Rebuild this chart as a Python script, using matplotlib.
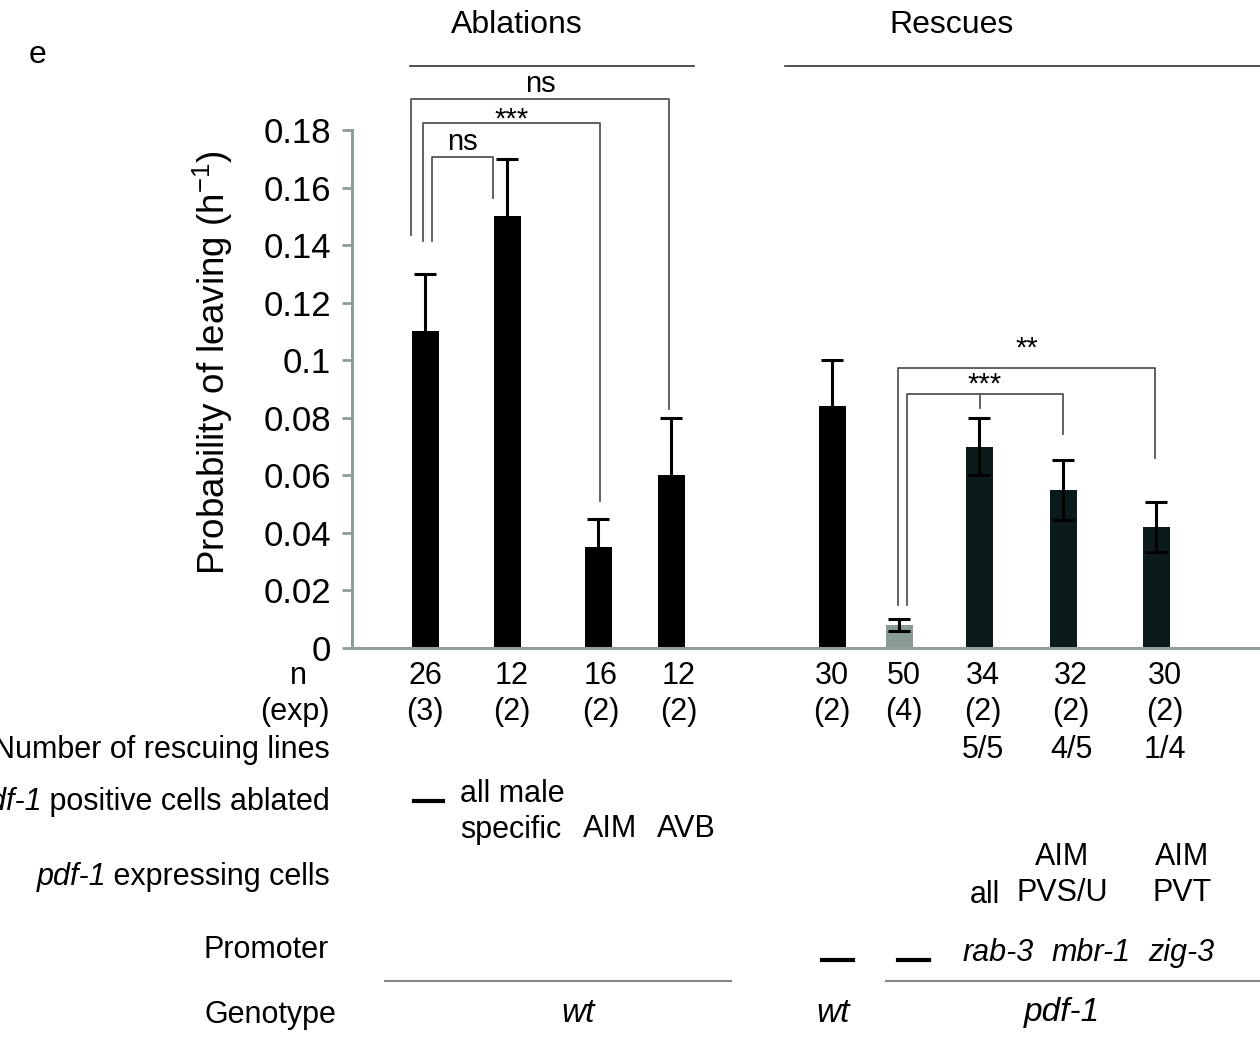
import matplotlib.pyplot as plt
from matplotlib.transforms import blended_transform_factory

plt.rcParams['font.family'] = ['Liberation Sans', 'DejaVu Sans']
plt.rcParams['mathtext.fontset'] = 'custom'
plt.rcParams['mathtext.rm'] = 'Liberation Sans'
plt.rcParams['mathtext.it'] = 'Liberation Sans:italic'

# data
values = [0.110, 0.150, 0.035, 0.060, 0.084, 0.008, 0.070, 0.055, 0.042]
errors = [0.020, 0.020, 0.010, 0.020, 0.016, 0.002, 0.010, 0.0105, 0.0087]
n_worms = ['26', '12', '16', '12', '30', '50', '34', '32', '30']
n_exp = ['(3)', '(2)', '(2)', '(2)', '(2)', '(4)', '(2)', '(2)', '(2)']
rescuing = ['', '', '', '', '', '', '5/5', '4/5', '1/4']
yticks = [0, 0.02, 0.04, 0.06, 0.08, 0.1, 0.12, 0.14, 0.16, 0.18]
ytick_labels = ['0', '0.02', '0.04', '0.06', '0.08', '0.1', '0.12', '0.14', '0.16', '0.18']

# layout (x in axis units = pixels right of the y axis)
W, H = 1260, 1038
X0 = 352
bar_x = [73, 155, 246, 319, 480, 547, 627, 711, 804]
label_x = [73, 160, 249, 327, 480, 552, 631, 719, 813]
bar_colors = ['black'] * 5 + ['#8a9a97'] + ['#0b1a1a'] * 3
axis_grey = '#8d9e9c'
brk_grey = '#555555'
FS = 22

fig = plt.figure(figsize=(W / 100, H / 100), dpi=100)
ax = fig.add_axes([X0 / W, 1 - 648 / H, 1 - X0 / W, (648 - 130) / H])

ax.bar(bar_x, values, width=27, color=bar_colors, zorder=2)
ax.errorbar(bar_x, values, yerr=errors, fmt='none', ecolor='black',
            elinewidth=2.2, capsize=8, capthick=2.2, zorder=3)

ax.set_xlim(0, W - X0)
ax.set_ylim(0, 0.18)
ax.set_yticks(yticks)
ax.set_yticklabels(ytick_labels, fontsize=25)
ax.set_xticks([])
for s in ['top', 'right']:
    ax.spines[s].set_visible(False)
for s in ['left', 'bottom']:
    ax.spines[s].set_color(axis_grey)
    ax.spines[s].set_linewidth(2.2)
ax.tick_params(axis='y', direction='out', length=7, width=2, color=axis_grey, pad=8)


def bracket(x1, x2, top, left_end, right_end, label, ly, mid=None):
    kw = dict(color=brk_grey, lw=1.3, clip_on=False, zorder=4)
    ax.plot([x1, x1, x2, x2], [left_end, top, top, right_end], **kw)
    if mid is not None:
        ax.plot([mid[0], mid[0]], [top, mid[1]], **kw)
    ax.text((x1 + x2) / 2, ly, label, ha='center', va='center',
            fontsize=21, clip_on=False)


bracket(59, 317, 0.1908, 0.1435, 0.0830, 'ns', 0.1960)
bracket(71, 248, 0.1825, 0.1414, 0.0510, '***', 0.1835)
bracket(80, 141, 0.1706, 0.1414, 0.1564, 'ns', 0.1760)
bracket(546, 803, 0.0973, 0.0149, 0.0660, '**', 0.1042)
bracket(555, 711, 0.0883, 0.0149, 0.0744, '***', 0.0914, mid=(628, 0.0834))


def ftxt(x, y, s, **kw):
    kw.setdefault('fontsize', FS)
    kw.setdefault('va', 'center')
    return fig.text(x / W, 1 - y / H, s, **kw)


def fline(x1, x2, y, **kw):
    fig.add_artist(plt.Line2D([x1 / W, x2 / W], [1 - y / H, 1 - y / H], **kw))


# panel letter and group headers
ftxt(37, 55, 'e', ha='center', fontsize=23)
ftxt(517, 25, 'Ablations', ha='center', fontsize=23)
ftxt(952, 25, 'Rescues', ha='center', fontsize=23)
fline(410, 694, 66, color='#333333', lw=1.2)
fline(785, 1260, 66, color='#333333', lw=1.2)

# y label
ftxt(213, 363, 'Probability of leaving (h$^{-1}$)', ha='center',
     rotation=90, fontsize=26.5)

# table below the axis
bt = blended_transform_factory(ax.transData, fig.transFigure)
for i in range(len(values)):
    fig.text(label_x[i], 1 - 676 / H, n_worms[i], transform=bt,
             ha='center', va='center', fontsize=FS)
    fig.text(label_x[i], 1 - 712 / H, n_exp[i], transform=bt,
             ha='center', va='center', fontsize=FS)
    if rescuing[i]:
        fig.text(label_x[i], 1 - 750 / H, rescuing[i], transform=bt,
                 ha='center', va='center', fontsize=FS)

ftxt(298, 676, 'n', ha='center')
ftxt(330, 712, '(exp)', ha='right')
ftxt(330, 750, 'Number of rescuing lines', ha='right')
t1 = ftxt(330, 802, ' positive cells ablated', ha='right')
t2 = ftxt(330, 877, ' expressing cells', ha='right')
ftxt(329, 950, 'Promoter', ha='right')
ftxt(336, 1015, 'Genotype', ha='right')

# italic gene name in front of the row labels
fig.canvas.draw()
for t, y in [(t1, 802), (t2, 877)]:
    bb = t.get_window_extent()
    fig.text(bb.x0 / W + 0.001, 1 - y / H, 'pdf-1', ha='right', va='center',
             fontsize=FS, style='italic')

# ablation row
fline(414, 443, 801, color='black', lw=3)
ftxt(460, 812, 'all male\nspecific', ha='left', linespacing=1.25)
ftxt(610, 829, 'AIM', ha='center')
ftxt(686, 829, 'AVB', ha='center')

# expressing cells row
ftxt(985, 895, 'all', ha='center')
ftxt(1062, 875, 'AIM\nPVS/U', ha='center', linespacing=1.3)
ftxt(1182, 875, 'AIM\nPVT', ha='center', linespacing=1.3)

# promoter row
fline(822, 853, 960, color='black', lw=3)
fline(898, 929, 960, color='black', lw=3)
ftxt(998, 953, 'rab-3', ha='center', style='italic')
ftxt(1091, 953, 'mbr-1', ha='center', style='italic')
ftxt(1181, 953, 'zig-3', ha='center', style='italic')

fline(385, 731, 981, color='#888888', lw=1.5)
fline(886, 1260, 981, color='#888888', lw=1.5)

# genotype row
ftxt(578, 1013, 'wt', ha='center', style='italic', fontsize=24)
ftxt(833, 1013, 'wt', ha='center', style='italic', fontsize=24)
ftxt(1062, 1013, 'pdf-1', ha='center', style='italic', fontsize=24)

fig.savefig('out.png', dpi=100)
